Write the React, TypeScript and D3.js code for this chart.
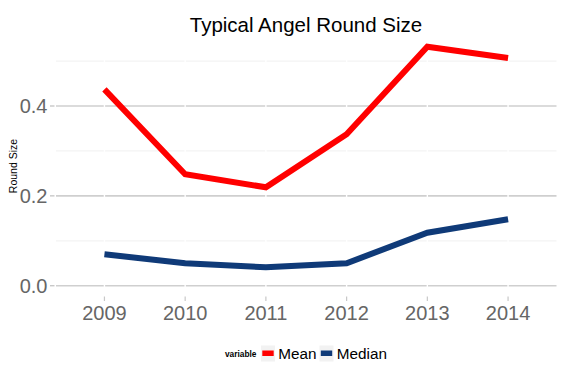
import React from "react";
import * as d3 from "d3";

const years = ["2009", "2010", "2011", "2012", "2013", "2014"];
const meanValues = [0.437, 0.248, 0.219, 0.337, 0.532, 0.507];
const medianValues = [0.07, 0.05, 0.041, 0.05, 0.118, 0.148];
const majorTicks = [0, 0.2, 0.4];
const minorTicks = [0.1, 0.3, 0.5];
const seriesNames = ["Mean", "Median"];
const seriesColors = ["#ff0000", "#0f3a78"];

const W = 570;
const H = 380;
const FONT = "'Liberation Sans', Arial, Helvetica, sans-serif";

export default function App() {
  const x = d3.scalePoint<string>().domain(years).range([56, 556.5]).padding(0.6);
  const y = d3.scaleLinear().domain([0, 0.4]).range([285.7, 106]);
  const line = d3
    .line<number>()
    .x((_, i) => x(years[i]) as number)
    .y((d) => y(d));
  const series = [meanValues, medianValues];
  const left = 56;
  const right = 556.5;

  return (
    <svg
      width={W}
      height={H}
      style={{ position: "absolute", left: 0, top: 0, background: "#fff" }}
      fontFamily={FONT}
    >
      <rect x={0} y={0} width={W} height={H} fill="#fff" />
      {/* minor grid */}
      {minorTicks.map((t) => (
        <line key={"mn" + t} x1={left} x2={right} y1={y(t)} y2={y(t)} stroke="#f3f3f3" strokeWidth={1.2} />
      ))}
      {/* major grid */}
      {majorTicks.map((t) => (
        <line key={"mj" + t} x1={left} x2={right} y1={y(t)} y2={y(t)} stroke="#cfcfcf" strokeWidth={1.6} />
      ))}
      {/* vertical white gridlines */}
      {years.map((yr) => (
        <line key={"v" + yr} x1={x(yr)} x2={x(yr)} y1={30} y2={292} stroke="#fff" strokeWidth={1.4} />
      ))}
      {/* y ticks */}
      {majorTicks.map((t) => (
        <g key={"yt" + t}>
          <line x1={50} x2={54.5} y1={y(t)} y2={y(t)} stroke="#c8c8c8" strokeWidth={1.4} />
          <text x={47.5} y={y(t) + 7.2} textAnchor="end" fontSize={20} fill="#666">
            {d3.format(".1f")(t)}
          </text>
        </g>
      ))}
      {/* x ticks */}
      {years.map((yr) => (
        <g key={"xt" + yr}>
          <line x1={x(yr)} x2={x(yr)} y1={296.5} y2={301} stroke="#c8c8c8" strokeWidth={1.2} />
          <text x={x(yr)} y={319.5} textAnchor="middle" fontSize={20} fill="#666">
            {yr}
          </text>
        </g>
      ))}
      {/* lines */}
      {series.map((vals, i) => (
        <path
          key={seriesNames[i]}
          d={line(vals) || ""}
          fill="none"
          stroke={seriesColors[i]}
          strokeWidth={6}
          strokeLinejoin="miter"
          strokeLinecap="butt"
        />
      ))}
      {/* title */}
      <text x={306} y={31.5} textAnchor="middle" fontSize={20.5} fill="#000">
        Typical Angel Round Size
      </text>
      {/* y label */}
      <text
        transform={`translate(16.5,166) rotate(-90)`}
        textAnchor="middle"
        fontSize={10.5}
        fill="#000"
      >
        Round Size
      </text>
      {/* legend */}
      <text x={225} y={356.5} fontSize={8.3} fontWeight="bold" fill="#000">
        variable
      </text>
      {seriesNames.map((name, i) => {
        const kx = i === 0 ? 261 : 319.5;
        return (
          <g key={"lg" + name}>
            <rect x={kx} y={345.5} width={14} height={16} fill="#f2f2f2" />
            <rect x={kx + 1.3} y={350.5} width={11.4} height={5.5} fill={seriesColors[i]} />
            <text x={kx + 17.3} y={358.5} fontSize={15.3} fill="#000">
              {name}
            </text>
          </g>
        );
      })}
    </svg>
  );
}
